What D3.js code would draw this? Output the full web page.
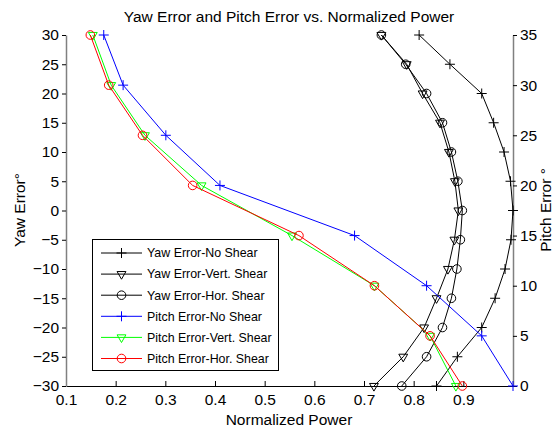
<!DOCTYPE html>
<html>
<head>
<meta charset="utf-8">
<script src="https://cdn.jsdelivr.net/npm/d3@7"></script>
<style>
body { margin: 0; background: #fff; }
text { font-family: "Liberation Sans", Arial, sans-serif; }
</style>
</head>
<body>
<svg width="553" height="427"></svg>
<script>
var yawAngles = [30, 25, 20, 15, 10, 5, 0, -5, -10, -15, -20, -25, -30];
var yawNoShear = [0.811, 0.873, 0.937, 0.961, 0.982, 0.995, 1.0, 0.996, 0.984, 0.964, 0.937, 0.888, 0.846];
var yawVertShear = [0.735, 0.786, 0.818, 0.853, 0.871, 0.883, 0.890, 0.882, 0.869, 0.846, 0.821, 0.779, 0.720];
var yawHorShear = [0.735, 0.784, 0.826, 0.858, 0.876, 0.889, 0.898, 0.894, 0.887, 0.876, 0.858, 0.826, 0.776];

var pitchAngles = [35, 30, 25, 20, 15, 10, 5, 0];
var pitchNoShear = [0.176, 0.215, 0.301, 0.410, 0.681, 0.826, 0.937, 1.0];
var pitchVertShear = [0.154, 0.191, 0.259, 0.373, 0.555, 0.721, 0.833, 0.885];
var pitchHorShear = [0.149, 0.186, 0.254, 0.355, 0.569, 0.721, 0.833, 0.898];

var xTicks = [0.1, 0.2, 0.3, 0.4, 0.5, 0.6, 0.7, 0.8, 0.9];
var yawTicks = [-30, -25, -20, -15, -10, -5, 0, 5, 10, 15, 20, 25, 30];
var pitchTicks = [0, 5, 10, 15, 20, 25, 30, 35];

var svg = d3.select('svg');
var plotLeft = 66, plotRight = 513, plotTop = 35, plotBottom = 386;

var xScale = d3.scaleLinear().domain([0.1, 1.0]).range([plotLeft, plotRight]);
var yawScale = d3.scaleLinear().domain([-30, 30]).range([plotBottom, plotTop]);
var pitchScale = d3.scaleLinear().domain([0, 35]).range([plotBottom, plotTop]);

// plus marker path
function plusPath(s) {
    return 'M' + (-s) + ',0H' + s + 'M0,' + (-s) + 'V' + s;
}
var triPath = d3.symbol().type(d3.symbolTriangle).size(34)();

var series = [
    { name: 'Yaw Error-No Shear', values: yawNoShear, angles: yawAngles, y: yawScale, color: '#000', marker: 'plus' },
    { name: 'Yaw Error-Vert. Shear', values: yawVertShear, angles: yawAngles, y: yawScale, color: '#000', marker: 'tri' },
    { name: 'Yaw Error-Hor. Shear', values: yawHorShear, angles: yawAngles, y: yawScale, color: '#000', marker: 'circle' },
    { name: 'Pitch Error-No Shear', values: pitchNoShear, angles: pitchAngles, y: pitchScale, color: '#0000ff', marker: 'plus' },
    { name: 'Pitch Error-Vert. Shear', values: pitchVertShear, angles: pitchAngles, y: pitchScale, color: '#00ff00', marker: 'tri' },
    { name: 'Pitch Error-Hor. Shear', values: pitchHorShear, angles: pitchAngles, y: pitchScale, color: '#ff0000', marker: 'circle' }
];

function drawMarker(g, type, color) {
    if (type === 'plus') {
        g.append('path').attr('d', plusPath(5)).attr('stroke', color).attr('fill', 'none');
    } else if (type === 'tri') {
        g.append('path').attr('d', triPath).attr('transform', 'rotate(180)')
            .attr('stroke', color).attr('fill', 'none');
    } else {
        g.append('circle').attr('r', 4.3).attr('stroke', color).attr('fill', 'none');
    }
}

// bottom axis
var xAxis = svg.append('g')
    .attr('transform', 'translate(0,' + plotBottom + ')')
    .call(d3.axisBottom(xScale).tickValues(xTicks).tickFormat(d3.format('.1f')).tickSizeInner(-5).tickSizeOuter(0).tickPadding(8));
xAxis.select('.domain').attr('stroke', '#000');
xAxis.selectAll('text').attr('font-size', 15.5).attr('fill', '#000');

// left axis
var yAxisL = svg.append('g')
    .attr('transform', 'translate(' + plotLeft + ',0)')
    .call(d3.axisLeft(yawScale).tickValues(yawTicks).tickSizeInner(4).tickSizeOuter(0).tickPadding(3));
yAxisL.select('.domain').attr('stroke', '#808080').attr('stroke-width', 1.5);
yAxisL.selectAll('text').attr('font-size', 15.5).attr('fill', '#000');

// right axis
var yAxisR = svg.append('g')
    .attr('transform', 'translate(' + plotRight + ',0)')
    .call(d3.axisRight(pitchScale).tickValues(pitchTicks).tickSizeInner(4).tickSizeOuter(0).tickPadding(3));
yAxisR.select('.domain').attr('stroke', '#808080').attr('stroke-width', 1.5);
yAxisR.selectAll('text').attr('font-size', 15.5).attr('fill', '#000');

// series
series.forEach(function(s) {
    var pts = s.values.map(function(v, i) { return [v, s.angles[i]]; });
    svg.append('path')
        .datum(pts)
        .attr('d', d3.line()
            .x(function(d) { return xScale(d[0]); })
            .y(function(d) { return s.y(d[1]); }))
        .attr('fill', 'none')
        .attr('stroke', s.color)
        .attr('stroke-width', 1);
    pts.forEach(function(d) {
        var g = svg.append('g').attr('transform', 'translate(' + xScale(d[0]) + ',' + s.y(d[1]) + ')');
        drawMarker(g, s.marker, s.color);
    });
});

// legend
var legend = svg.append('g');
legend.append('rect')
    .attr('x', 92.5).attr('y', 239.5).attr('width', 186).attr('height', 131)
    .attr('fill', '#fff').attr('stroke', '#000');
series.forEach(function(s, i) {
    var y = 253 + i * 21.1;
    legend.append('line').attr('x1', 101).attr('x2', 142).attr('y1', y).attr('y2', y)
        .attr('stroke', s.color);
    var g = legend.append('g').attr('transform', 'translate(121.5,' + y + ')');
    drawMarker(g, s.marker, s.color);
    legend.append('text').attr('x', 147).attr('y', y).attr('dy', '0.35em')
        .attr('font-size', 12.4).text(s.name);
});

// title and labels
svg.append('text').attr('x', 289).attr('y', 22).attr('text-anchor', 'middle')
    .attr('font-size', 15.5).text('Yaw Error and Pitch Error vs. Normalized Power');
svg.append('text').attr('x', 289).attr('y', 425).attr('text-anchor', 'middle')
    .attr('font-size', 15.5).text('Normalized Power');
svg.append('text').attr('transform', 'translate(25,210) rotate(-90)').attr('text-anchor', 'middle')
    .attr('font-size', 15.5).text('Yaw Error°');
svg.append('text').attr('transform', 'translate(551,210) rotate(-90)').attr('text-anchor', 'middle')
    .attr('font-size', 15.5).text('Pitch Error °');
</script>
</body>
</html>
